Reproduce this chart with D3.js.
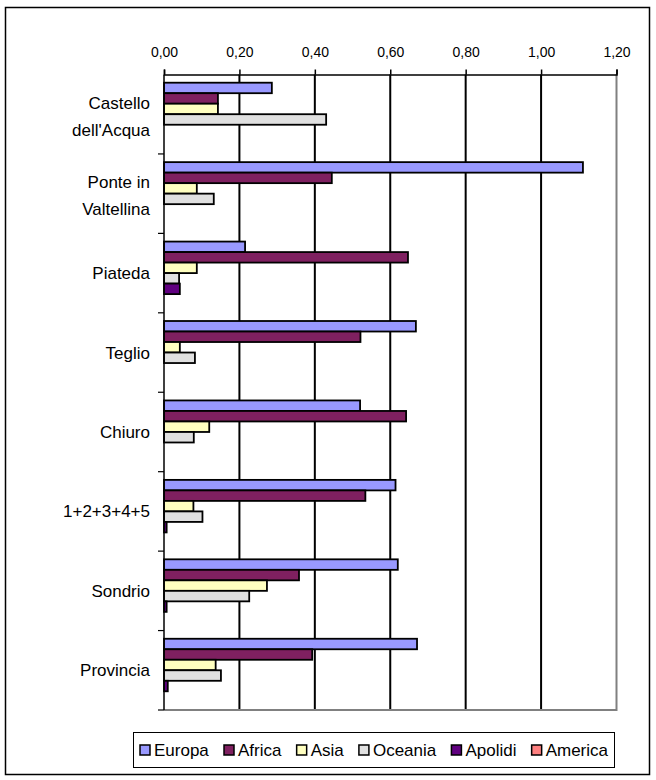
<!DOCTYPE html>
<html>
<head>
<meta charset="utf-8">
<script src="https://cdn.jsdelivr.net/npm/d3@7"></script>
<style>
  body { margin: 0; background: #fff; }
  text { font-family: "Liberation Sans", Arial, sans-serif; fill: #000; }
</style>
</head>
<body>
<div id="chart"></div>
<script>
var width  = 656,
    height = 780;

// categories, top to bottom
var categories = ["Castello dell'Acqua", "Ponte in Valtellina", "Piateda", "Teglio",
                  "Chiuro", "1+2+3+4+5", "Sondrio", "Provincia"];
var catLines = [["Castello", "dell'Acqua"], ["Ponte in", "Valtellina"], ["Piateda"], ["Teglio"],
                ["Chiuro"], ["1+2+3+4+5"], ["Sondrio"], ["Provincia"]];

var seriesNames = ["Europa", "Africa", "Asia", "Oceania", "Apolidi", "America"];
var seriesColors = ["#9999ff", "#7f2060", "#ffffc0", "#e0e0e0", "#600080", "#ff8080"];

var europa  = [0.286, 1.111, 0.215, 0.668, 0.520, 0.614, 0.620, 0.671];
var africa  = [0.143, 0.445, 0.647, 0.521, 0.642, 0.534, 0.358, 0.393];
var asia    = [0.143, 0.087, 0.087, 0.042, 0.120, 0.078, 0.273, 0.137];
var oceania = [0.430, 0.132, 0.040, 0.082, 0.079, 0.102, 0.226, 0.151];
var apolidi = [0.000, 0.000, 0.042, 0.000, 0.000, 0.007, 0.007, 0.010];
var america = [0, 0, 0, 0, 0, 0, 0, 0];

var xTicks = [0, 0.2, 0.4, 0.6, 0.8, 1.0, 1.2];

var seriesValues = [europa, africa, asia, oceania, apolidi, america];

var svg = d3.select('#chart').append('svg')
    .attr('width', width)
    .attr('height', height);

// outer chart frame
svg.append('rect')
    .attr('x', 5.5).attr('y', 7.5)
    .attr('width', 644).attr('height', 767)
    .attr('fill', '#fff')
    .attr('stroke', '#000')
    .attr('stroke-width', 1.5);

var x = d3.scaleLinear().domain([0, 1.2]).range([164, 616.5]);
var y0 = d3.scaleBand().domain(categories).range([74.5, 710]);
var y1 = d3.scaleBand().domain(seriesNames).range([0, y0.bandwidth()]).paddingOuter(0.78);

var plotTop = y0.range()[0], plotBottom = y0.range()[1];

// vertical gridlines
svg.append('g').selectAll('line')
    .data(xTicks.slice(1, -1))
    .enter().append('line')
    .attr('x1', function(d) { return x(d); })
    .attr('x2', function(d) { return x(d); })
    .attr('y1', plotTop).attr('y2', plotBottom)
    .attr('stroke', '#000')
    .attr('stroke-width', 2);

// plot border right / bottom (grey)
svg.append('path')
    .attr('d', 'M' + x(1.2) + ',' + plotTop + 'V' + plotBottom + 'H' + x(0))
    .attr('fill', 'none')
    .attr('stroke', '#808080')
    .attr('stroke-width', 2);

// bars
var rows = [];
categories.forEach(function(c, ci) {
    seriesNames.forEach(function(s, si) {
        rows.push({ cat: c, series: s, value: seriesValues[si][ci], color: seriesColors[si] });
    });
});

svg.append('g').selectAll('rect')
    .data(rows.filter(function(d) { return d.value > 0; }))
    .enter().append('rect')
    .attr('x', x(0))
    .attr('y', function(d) { return y0(d.cat) + y1(d.series); })
    .attr('width', function(d) { return x(d.value) - x(0); })
    .attr('height', y1.bandwidth())
    .attr('fill', function(d) { return d.color; })
    .attr('stroke', '#000')
    .attr('stroke-width', 1.8);

// top value axis
var xAxis = d3.axisTop(x)
    .tickValues(xTicks)
    .tickSize(5)
    .tickPadding(13)
    .tickFormat(function(d) { return d3.format('.2f')(d).replace('.', ','); });

var gx = svg.append('g')
    .attr('transform', 'translate(0,' + plotTop + ')')
    .call(xAxis);
gx.select('.domain').attr('stroke', '#000').attr('stroke-width', 1.5);
gx.selectAll('.tick line').attr('stroke', '#000').attr('stroke-width', 1.5);
gx.selectAll('.tick text')
    .style('font-family', '"Liberation Sans", Arial, sans-serif')
    .style('font-size', '14px')
    .attr('fill', '#000');

// left category axis: line + ticks on band edges
svg.append('line')
    .attr('x1', x(0)).attr('x2', x(0))
    .attr('y1', plotTop).attr('y2', plotBottom)
    .attr('stroke', '#000')
    .attr('stroke-width', 1.5);

var edges = categories.map(function(c) { return y0(c) + y0.bandwidth(); });
svg.append('g').selectAll('line')
    .data(edges)
    .enter().append('line')
    .attr('x1', x(0) - 6).attr('x2', x(0))
    .attr('y1', function(d) { return d; })
    .attr('y2', function(d) { return d; })
    .attr('stroke', '#000')
    .attr('stroke-width', 1.2);

// category labels
var labels = svg.append('g').selectAll('text')
    .data(categories)
    .enter().append('text')
    .attr('text-anchor', 'end')
    .style('font-size', '17px')
    .attr('y', function(d) { return y0(d) + y0.bandwidth() / 2; });

labels.each(function(d, i) {
    var lines = catLines[i],
        lh = 27,
        start = -(lines.length - 1) * lh / 2;
    d3.select(this).selectAll('tspan')
        .data(lines)
        .enter().append('tspan')
        .attr('x', 150)
        .attr('dy', function(l, j) { return j ? lh : start + (lines.length > 1 ? 8 : 6); })
        .text(function(l) { return l; });
});

// legend
var legX = 133.5, legY = 732.5, legW = 481, legH = 35;
svg.append('rect')
    .attr('x', legX).attr('y', legY)
    .attr('width', legW).attr('height', legH)
    .attr('fill', '#fff')
    .attr('stroke', '#000')
    .attr('stroke-width', 1);

var legend = svg.append('g');
var items = legend.selectAll('g')
    .data(seriesNames)
    .enter().append('g');

items.append('rect')
    .attr('width', 10).attr('height', 10)
    .attr('y', legY + legH / 2 - 5)
    .attr('fill', function(d, i) { return seriesColors[i]; })
    .attr('stroke', '#000')
    .attr('stroke-width', 1.5);

items.append('text')
    .style('font-size', '17px')
    .attr('y', legY + legH / 2 + 6)
    .text(function(d) { return d; });

// pack entries, spreading the gaps across the legend box
var textW = [];
items.selectAll('text').each(function() { textW.push(this.getComputedTextLength()); });
var inner = 140, innerEnd = 608,
    boxGap = 4,
    used = d3.sum(textW) + seriesNames.length * (10 + boxGap),
    gap = (innerEnd - inner - used) / (seriesNames.length - 1),
    cx = inner;
items.each(function(d, i) {
    var g = d3.select(this);
    g.select('rect').attr('x', cx);
    g.select('text').attr('x', cx + 10 + boxGap);
    cx += 10 + boxGap + textW[i] + gap;
});
</script>
</body>
</html>
